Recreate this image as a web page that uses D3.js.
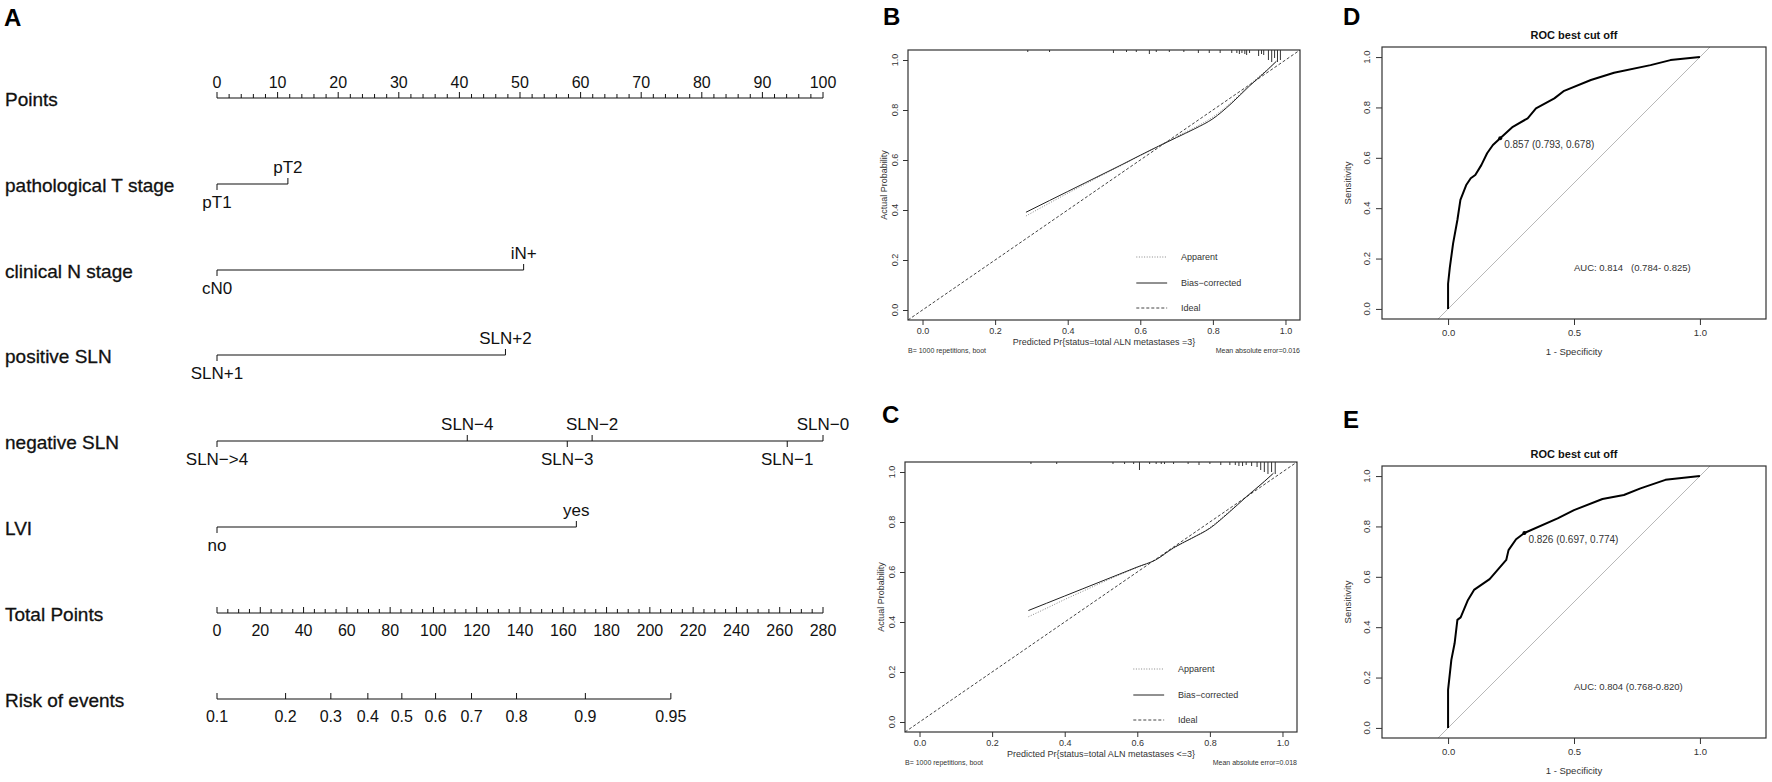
<!DOCTYPE html>
<html>
<head>
<meta charset="utf-8">
<script src="https://cdn.jsdelivr.net/npm/d3@7"></script>
<style>
  html, body { margin: 0; padding: 0; background: #fff; }
  svg { display: block; font-family: "Liberation Sans", Arial, Helvetica, sans-serif; }
</style>
</head>
<body>
<div id="chart"></div>
<script>
// ---------- Panel A: nomogram ----------
const pointsTicks = [0, 10, 20, 30, 40, 50, 60, 70, 80, 90, 100];
const totalPointsTicks = [0, 20, 40, 60, 80, 100, 120, 140, 160, 180, 200, 220, 240, 260, 280];
const predictorNames = ['pathological T stage', 'clinical N stage', 'positive SLN', 'negative SLN', 'LVI'];
const predictorLevels = [
  ['pT1', 'pT2'],
  ['cN0', 'iN+'],
  ['SLN+1', 'SLN+2'],
  ['SLN\u2212>4', 'SLN\u22124', 'SLN\u22123', 'SLN\u22122', 'SLN\u22121', 'SLN\u22120'],
  ['no', 'yes']
];
const predictorPoints = [
  [0, 11.7],
  [0, 50.6],
  [0, 47.6],
  [0, 41.3, 57.8, 61.9, 94.1, 100],
  [0, 59.3]
];
const riskTicks = [0.1, 0.2, 0.3, 0.4, 0.5, 0.6, 0.7, 0.8, 0.9, 0.95];
const riskTotalPoints = [0, 31.7, 52.6, 69.7, 85.4, 101, 117.6, 138.4, 170.2, 209.7];

// ---------- Panels B / C: calibration ----------
const calBPredicted = [0.285, 0.35, 0.40, 0.45, 0.50, 0.55, 0.60, 0.65, 0.70, 0.75, 0.80, 0.85, 0.90, 0.95, 0.975];
const calBCorrected = [0.391, 0.438, 0.474, 0.510, 0.546, 0.582, 0.619, 0.655, 0.690, 0.725, 0.765, 0.825, 0.895, 0.960, 0.995];
const calBApparent  = [0.376, 0.428, 0.467, 0.505, 0.543, 0.580, 0.618, 0.656, 0.694, 0.730, 0.772, 0.830, 0.900, 0.962, 0.995];
const rugBX = [0.29, 0.35, 0.526, 0.562, 0.589, 0.625, 0.644, 0.68, 0.72, 0.76, 0.79, 0.82, 0.852, 0.866, 0.873, 0.88, 0.888, 0.893, 0.901, 0.926, 0.934, 0.94, 0.953, 0.962, 0.97, 0.978, 0.986];
const rugBLen = [2, 2, 3, 2, 2, 4, 2, 2, 2, 3, 3, 3, 3, 3, 4, 3, 4, 5, 3, 6, 4, 5, 10, 12, 8, 12, 10];

const calCPredicted = [0.30, 0.35, 0.40, 0.45, 0.50, 0.55, 0.60, 0.65, 0.70, 0.75, 0.80, 0.85, 0.90, 0.95, 0.975];
const calCCorrected = [0.446, 0.475, 0.504, 0.533, 0.562, 0.591, 0.620, 0.648, 0.697, 0.735, 0.775, 0.835, 0.900, 0.962, 0.995];
const calCApparent  = [0.421, 0.455, 0.490, 0.523, 0.556, 0.588, 0.618, 0.648, 0.695, 0.735, 0.778, 0.838, 0.902, 0.963, 0.995];
const rugCX = [0.307, 0.378, 0.533, 0.565, 0.59, 0.606, 0.634, 0.652, 0.666, 0.675, 0.70, 0.74, 0.77, 0.80, 0.83, 0.855, 0.87, 0.88, 0.89, 0.90, 0.915, 0.93, 0.94, 0.95, 0.96, 0.97, 0.98];
const rugCLen = [2, 2, 2, 2, 2, 8, 2, 2, 2, 2, 2, 2, 3, 2, 3, 3, 3, 4, 4, 3, 4, 5, 8, 10, 12, 10, 12];

const calLegend = ['Apparent', 'Bias\u2212corrected', 'Ideal'];
const calTicks = [0, 0.2, 0.4, 0.6, 0.8, 1.0];

// ---------- Panels D / E: ROC ----------
const rocDFpr = [0, 0, 0.007, 0.02, 0.037, 0.049, 0.072, 0.09, 0.108, 0.132, 0.155, 0.178, 0.207, 0.257, 0.316, 0.349, 0.422, 0.461, 0.567, 0.659, 0.804, 0.883, 1.0];
const rocDTpr = [0, 0.10, 0.165, 0.26, 0.353, 0.433, 0.492, 0.519, 0.532, 0.571, 0.618, 0.651, 0.678, 0.723, 0.757, 0.796, 0.836, 0.866, 0.909, 0.938, 0.968, 0.988, 1.0];
const rocEFpr = [0, 0, 0, 0.013, 0.026, 0.037, 0.05, 0.079, 0.103, 0.165, 0.231, 0.24, 0.27, 0.303, 0.435, 0.5, 0.613, 0.698, 0.764, 0.863, 1.0];
const rocETpr = [0, 0.07, 0.151, 0.27, 0.336, 0.429, 0.439, 0.508, 0.548, 0.591, 0.667, 0.706, 0.749, 0.774, 0.832, 0.865, 0.909, 0.925, 0.951, 0.985, 1.0];
const rocYTicks = [0, 0.2, 0.4, 0.6, 0.8, 1.0];
const rocXTicks = [0, 0.5, 1.0];

const W = 1772, H = 782;
const svg = d3.select('#chart').append('svg').attr('width', W).attr('height', H);

// Panel letters
const panelLetters = [
  { t: 'A', x: 4, y: 26 },
  { t: 'B', x: 883, y: 25 },
  { t: 'C', x: 882, y: 423 },
  { t: 'D', x: 1343, y: 25 },
  { t: 'E', x: 1343, y: 428 }
];
svg.selectAll('text.letter').data(panelLetters).enter().append('text')
  .attr('class', 'letter')
  .attr('x', d => d.x).attr('y', d => d.y)
  .attr('font-size', 24).attr('font-weight', 'bold').attr('fill', '#000')
  .text(d => d.t);

/**
 * Draw the nomogram of panel A
 */
function drawNomogram(g) {
  const rowY = [98, 184, 270, 355, 441, 527, 613, 699];
  const xPts = d3.scaleLinear().domain([0, 100]).range([217, 823]);
  const xTot = d3.scaleLinear().domain([0, 280]).range([217, 823]);
  const ink = '#111';
  const nameSize = 19, levelSize = 17, tickSize = 16;

  const rowNames = ['Points'].concat(predictorNames, ['Total Points', 'Risk of events']);
  g.selectAll('text.rowname').data(rowNames).enter().append('text')
    .attr('class', 'rowname')
    .attr('x', 5).attr('y', (d, i) => rowY[i] + 8)
    .attr('font-size', nameSize).attr('fill', ink)
    .attr('stroke', ink).attr('stroke-width', 0.3)
    .text(d => d);

  // Points axis (labels above, ticks up)
  const py = rowY[0];
  g.append('line').attr('x1', xPts(0)).attr('x2', xPts(100)).attr('y1', py).attr('y2', py)
    .attr('stroke', ink).attr('stroke-width', 1.2);
  g.selectAll('line.ptick').data(d3.range(0, 101, 2)).enter().append('line')
    .attr('x1', d => xPts(d)).attr('x2', d => xPts(d))
    .attr('y1', py).attr('y2', d => py - (d % 10 === 0 ? 6 : 4))
    .attr('stroke', ink).attr('stroke-width', 1);
  g.selectAll('text.plab').data(pointsTicks).enter().append('text')
    .attr('x', d => xPts(d)).attr('y', py - 10)
    .attr('text-anchor', 'middle').attr('font-size', tickSize).attr('fill', ink)
    .text(d => d);

  // Predictor rows
  predictorNames.forEach((name, r) => {
    const y = rowY[r + 1];
    const pts = predictorPoints[r];
    const levels = predictorLevels[r].map((lab, i) => ({ lab, p: pts[i] }))
      .sort((a, b) => a.p - b.p);
    levels.forEach((d, i) => { d.above = i % 2 === 1; });
    g.append('line')
      .attr('x1', xPts(d3.min(pts))).attr('x2', xPts(d3.max(pts)))
      .attr('y1', y).attr('y2', y)
      .attr('stroke', ink).attr('stroke-width', 1.2);
    const lv = g.append('g').selectAll('g').data(levels).enter().append('g');
    lv.append('line')
      .attr('x1', d => xPts(d.p)).attr('x2', d => xPts(d.p))
      .attr('y1', y).attr('y2', d => d.above ? y - 6 : y + 6)
      .attr('stroke', ink).attr('stroke-width', 1);
    lv.append('text')
      .attr('x', d => xPts(d.p)).attr('y', d => d.above ? y - 11 : y + 24)
      .attr('text-anchor', 'middle').attr('font-size', levelSize).attr('fill', ink)
      .text(d => d.lab);
  });

  // Total Points axis (labels below, ticks up)
  const ty = rowY[6];
  g.append('line').attr('x1', xTot(0)).attr('x2', xTot(280)).attr('y1', ty).attr('y2', ty)
    .attr('stroke', ink).attr('stroke-width', 1.2);
  g.selectAll('line.ttick').data(d3.range(0, 281, 5)).enter().append('line')
    .attr('x1', d => xTot(d)).attr('x2', d => xTot(d))
    .attr('y1', ty).attr('y2', d => ty - (d % 20 === 0 ? 6 : 4))
    .attr('stroke', ink).attr('stroke-width', 1);
  g.selectAll('text.tlab').data(totalPointsTicks).enter().append('text')
    .attr('x', d => xTot(d)).attr('y', ty + 23)
    .attr('text-anchor', 'middle').attr('font-size', tickSize).attr('fill', ink)
    .text(d => d);

  // Risk axis
  const ry = rowY[7];
  g.append('line')
    .attr('x1', xTot(riskTotalPoints[0])).attr('x2', xTot(riskTotalPoints[riskTotalPoints.length - 1]))
    .attr('y1', ry).attr('y2', ry)
    .attr('stroke', ink).attr('stroke-width', 1.2);
  const rk = g.append('g').selectAll('g').data(d3.zip(riskTicks, riskTotalPoints)).enter().append('g');
  rk.append('line')
    .attr('x1', d => xTot(d[1])).attr('x2', d => xTot(d[1]))
    .attr('y1', ry).attr('y2', ry - 6)
    .attr('stroke', ink).attr('stroke-width', 1);
  rk.append('text')
    .attr('x', d => xTot(d[1])).attr('y', ry + 23)
    .attr('text-anchor', 'middle').attr('font-size', tickSize).attr('fill', ink)
    .text(d => d[0]);
}

/**
 * Draw a calibration plot (panels B and C)
 */
function drawCalibration(g, cfg) {
  const x = d3.scaleLinear().domain([-0.04, 1.04]).range([cfg.left, cfg.right]);
  const y = d3.scaleLinear().domain([-0.04, 1.04]).range([cfg.bottom, cfg.top]);
  const axisCol = '#333';
  const clipId = 'clip-' + cfg.id;
  g.append('clipPath').attr('id', clipId).append('rect')
    .attr('x', cfg.left).attr('y', cfg.top)
    .attr('width', cfg.right - cfg.left).attr('height', cfg.bottom - cfg.top);

  const styles = [
    { stroke: '#888', dash: '1,1.6', width: 1 },
    { stroke: '#222', dash: null, width: 1 },
    { stroke: '#444', dash: '3,2', width: 1 }
  ];

  // ideal line
  g.append('line').attr('clip-path', `url(#${clipId})`)
    .attr('x1', x(-0.04)).attr('y1', y(-0.04)).attr('x2', x(1.04)).attr('y2', y(1.04))
    .attr('stroke', styles[2].stroke).attr('stroke-dasharray', styles[2].dash).attr('stroke-width', 1);

  const line = d3.line().x(d => x(d[0])).y(d => y(d[1])).curve(d3.curveMonotoneX);
  g.append('path').datum(d3.zip(cfg.pred, cfg.apparent))
    .attr('d', line).attr('fill', 'none')
    .attr('stroke', styles[0].stroke).attr('stroke-dasharray', styles[0].dash).attr('stroke-width', 1);
  g.append('path').datum(d3.zip(cfg.pred, cfg.corrected))
    .attr('d', line).attr('fill', 'none')
    .attr('stroke', styles[1].stroke).attr('stroke-width', 1);

  // rug at the top
  g.selectAll('line.rug').data(d3.zip(cfg.rugX, cfg.rugLen)).enter().append('line')
    .attr('x1', d => x(d[0])).attr('x2', d => x(d[0]))
    .attr('y1', cfg.top).attr('y2', d => cfg.top + d[1])
    .attr('stroke', '#333').attr('stroke-width', 1);

  // box
  g.append('rect').attr('x', cfg.left).attr('y', cfg.top)
    .attr('width', cfg.right - cfg.left).attr('height', cfg.bottom - cfg.top)
    .attr('fill', 'none').attr('stroke', axisCol).attr('stroke-width', 1.2);

  // axes
  const xa = g.append('g').attr('transform', `translate(0,${cfg.bottom})`)
    .call(d3.axisBottom(x).tickValues(calTicks).tickSize(5).tickFormat(d3.format('.1f')));
  xa.select('.domain').remove();
  xa.selectAll('line').attr('stroke', axisCol);
  xa.selectAll('text').attr('font-size', 9).attr('fill', axisCol).attr('font-family', null)
    .attr('y', 8).attr('dy', '0.71em');

  const ya = g.append('g').attr('transform', `translate(${cfg.left},0)`)
    .call(d3.axisLeft(y).tickValues(calTicks).tickSize(5).tickFormat(''));
  ya.select('.domain').remove();
  ya.selectAll('line').attr('stroke', axisCol);
  g.selectAll('text.ylab').data(calTicks).enter().append('text')
    .attr('transform', d => `translate(${cfg.left - 10},${y(d)}) rotate(-90)`)
    .attr('text-anchor', 'middle').attr('font-size', 9).attr('fill', axisCol)
    .text(d3.format('.1f'));

  g.append('text')
    .attr('transform', `translate(${cfg.left - 21},${(cfg.top + cfg.bottom) / 2}) rotate(-90)`)
    .attr('text-anchor', 'middle').attr('font-size', 9).attr('fill', axisCol)
    .text('Actual Probability');
  g.append('text')
    .attr('x', (cfg.left + cfg.right) / 2).attr('y', cfg.bottom + 25)
    .attr('text-anchor', 'middle').attr('font-size', 9).attr('fill', axisCol)
    .text(cfg.xTitle);
  g.append('text')
    .attr('x', cfg.left).attr('y', cfg.bottom + 33)
    .attr('font-size', 7).attr('fill', axisCol)
    .text('B= 1000 repetitions, boot');
  g.append('text')
    .attr('x', cfg.right).attr('y', cfg.bottom + 33)
    .attr('text-anchor', 'end').attr('font-size', 7).attr('fill', axisCol)
    .text(cfg.mae);

  // legend
  const legY = [0.212, 0.108, 0.008];
  const lg = g.selectAll('g.leg').data(calLegend).enter().append('g');
  lg.append('line')
    .attr('x1', x(0.589)).attr('x2', x(0.674))
    .attr('y1', (d, i) => y(legY[i])).attr('y2', (d, i) => y(legY[i]))
    .attr('stroke', (d, i) => styles[i].stroke)
    .attr('stroke-dasharray', (d, i) => styles[i].dash)
    .attr('stroke-width', 1);
  lg.append('text')
    .attr('x', x(0.712)).attr('y', (d, i) => y(legY[i]) + 3)
    .attr('font-size', 9).attr('fill', axisCol)
    .text(d => d);
}

/**
 * Draw a ROC plot (panels D and E)
 */
function drawRoc(g, cfg) {
  const unit = (cfg.bottom - cfg.top) / 1.08;
  const half = (cfg.right - cfg.left) / 2 / unit;
  const x = d3.scaleLinear().domain([0.5 - half, 0.5 + half]).range([cfg.left, cfg.right]);
  const y = d3.scaleLinear().domain([-0.04, 1.04]).range([cfg.bottom, cfg.top]);
  const axisCol = '#333';
  const clipId = 'clip-' + cfg.id;
  g.append('clipPath').attr('id', clipId).append('rect')
    .attr('x', cfg.left).attr('y', cfg.top)
    .attr('width', cfg.right - cfg.left).attr('height', cfg.bottom - cfg.top);

  g.append('line').attr('clip-path', `url(#${clipId})`)
    .attr('x1', x(-0.1)).attr('y1', y(-0.1)).attr('x2', x(1.1)).attr('y2', y(1.1))
    .attr('stroke', '#b8b8b8').attr('stroke-width', 1);

  const line = d3.line().x(d => x(d[0])).y(d => y(d[1]));
  g.append('path').datum(d3.zip(cfg.fpr, cfg.tpr))
    .attr('d', line).attr('fill', 'none')
    .attr('stroke', '#000').attr('stroke-width', 2).attr('stroke-linejoin', 'round');

  const cx = x(1 - cfg.cut[1]), cy = y(cfg.cut[2]);
  g.append('circle').attr('cx', cx).attr('cy', cy).attr('r', 2).attr('fill', '#000');
  g.append('text').attr('x', cx + 4).attr('y', cy + 10)
    .attr('font-size', 10).attr('fill', axisCol)
    .text(`${cfg.cut[0].toFixed(3)} (${cfg.cut[1].toFixed(3)}, ${cfg.cut[2].toFixed(3)})`);
  g.append('text').attr('x', x(0.5)).attr('y', y(0.2) + 12)
    .attr('font-size', 9.5).attr('fill', axisCol)
    .attr('xml:space', 'preserve').style('white-space', 'pre')
    .text(cfg.auc);

  g.append('rect').attr('x', cfg.left).attr('y', cfg.top)
    .attr('width', cfg.right - cfg.left).attr('height', cfg.bottom - cfg.top)
    .attr('fill', 'none').attr('stroke', axisCol).attr('stroke-width', 1.2);

  g.append('text').attr('x', (cfg.left + cfg.right) / 2).attr('y', cfg.top - 8)
    .attr('text-anchor', 'middle').attr('font-size', 11).attr('font-weight', 'bold').attr('fill', '#111')
    .text('ROC best cut off');

  const xa = g.append('g').attr('transform', `translate(0,${cfg.bottom})`)
    .call(d3.axisBottom(x).tickValues(rocXTicks).tickSize(6).tickFormat(d3.format('.1f')));
  xa.select('.domain').remove();
  xa.selectAll('line').attr('stroke', axisCol);
  xa.selectAll('text').attr('font-size', 9.5).attr('fill', axisCol).attr('font-family', null)
    .attr('y', 10).attr('dy', '0.71em');

  const ya = g.append('g').attr('transform', `translate(${cfg.left},0)`)
    .call(d3.axisLeft(y).tickValues(rocYTicks).tickSize(6).tickFormat(''));
  ya.select('.domain').remove();
  ya.selectAll('line').attr('stroke', axisCol);
  g.selectAll('text.ylab').data(rocYTicks).enter().append('text')
    .attr('transform', d => `translate(${cfg.left - 12},${y(d)}) rotate(-90)`)
    .attr('text-anchor', 'middle').attr('font-size', 9.5).attr('fill', axisCol)
    .text(d3.format('.1f'));

  g.append('text')
    .attr('transform', `translate(${cfg.left - 31},${y(0.5)}) rotate(-90)`)
    .attr('text-anchor', 'middle').attr('font-size', 9.5).attr('fill', axisCol)
    .text('Sensitivity');
  g.append('text')
    .attr('x', x(0.5)).attr('y', cfg.bottom + 36)
    .attr('text-anchor', 'middle').attr('font-size', 9.5).attr('fill', axisCol)
    .text('1 - Specificity');
}

drawNomogram(svg.append('g'));

drawCalibration(svg.append('g'), {
  id: 'b', left: 908, right: 1300, top: 50, bottom: 320,
  pred: calBPredicted, corrected: calBCorrected, apparent: calBApparent,
  rugX: rugBX, rugLen: rugBLen,
  xTitle: 'Predicted Pr{status=total ALN metastases =3}',
  mae: 'Mean absolute error=0.016'
});
drawCalibration(svg.append('g'), {
  id: 'c', left: 905, right: 1297, top: 462, bottom: 732,
  pred: calCPredicted, corrected: calCCorrected, apparent: calCApparent,
  rugX: rugCX, rugLen: rugCLen,
  xTitle: 'Predicted Pr{status=total ALN metastases <=3}',
  mae: 'Mean absolute error=0.018'
});

drawRoc(svg.append('g'), {
  id: 'd', left: 1382, right: 1766, top: 47, bottom: 319,
  fpr: rocDFpr, tpr: rocDTpr, cut: [0.857, 0.793, 0.678],
  auc: 'AUC: 0.814   (0.784- 0.825)'
});
drawRoc(svg.append('g'), {
  id: 'e', left: 1382, right: 1766, top: 466, bottom: 738,
  fpr: rocEFpr, tpr: rocETpr, cut: [0.826, 0.697, 0.774],
  auc: 'AUC: 0.804 (0.768-0.820)'
});
</script>
</body>
</html>
